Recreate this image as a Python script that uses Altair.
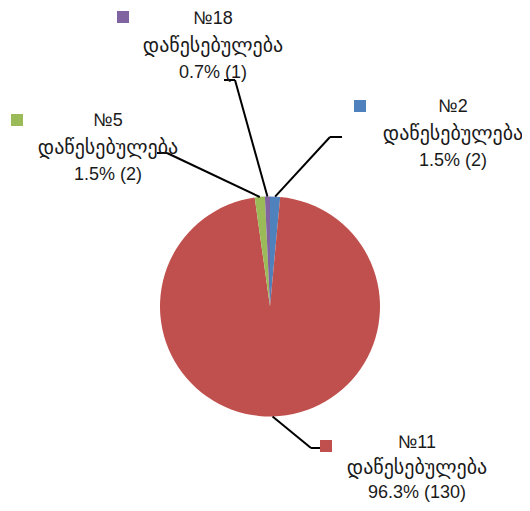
import altair as alt
import pandas as pd
import math

# ---- data ----
categories = ["№2", "№11", "№5", "№18"]
counts = [2, 130, 2, 1]
colors = ["#4F81BD", "#C0504D", "#9BBB59", "#8064A2"]
word = "დაწესებულება"

total = sum(counts)
pct_labels = [f"{c / total * 100:.1f}% ({c})" for c in counts]

# ---- layout (page pixel coordinates) ----
CX, CY, R = 270, 306.5, 110
label_centers = [(453, 107), (417, 443), (108, 121), (213, 19)]
line_h = [27, 25, 27, 27]
key_pos = [(360, 106), (326, 446), (17, 120), (123, 17)]
elbows = [(330, 137), (311, 448), (167, 153), (235, 80)]
ends = [(342, 137), (320, 448), (157, 153), (224, 80)]
FONT = "Liberation Sans, DejaVu Sans"
SIZES = [18, 20, 18]

pie_df = pd.DataFrame({"cat": categories, "count": counts, "idx": range(len(categories))})

# leader lines from slice midpoints
seg_rows = []
cum = 0
for i, c in enumerate(counts):
    mid = (cum + c / 2) / total * 2 * math.pi
    cum += c
    px = CX + R * math.sin(mid)
    py = CY - R * math.cos(mid)
    ex, ey = elbows[i]
    tx, ty = ends[i]
    seg_rows.append({"x": px, "y": py, "x2": ex, "y2": ey})
    seg_rows.append({"x": ex, "y": ey, "x2": tx, "y2": ty})
seg_df = pd.DataFrame(seg_rows)

text_rows = []
key_rows = []
for i, cat in enumerate(categories):
    lx, ly = label_centers[i]
    for j, t in enumerate([cat, word, pct_labels[i]]):
        text_rows.append({"x": lx, "y": ly + j * line_h[i], "t": t, "s": SIZES[j]})
    kx, ky = key_pos[i]
    key_rows.append({"x": kx, "y": ky, "cat": cat})
text_df = pd.DataFrame(text_rows)
key_df = pd.DataFrame(key_rows)

W, H = 514, 495
xs = alt.Scale(domain=[8, 8 + W], range=[0, W])
ys = alt.Scale(domain=[8, 8 + H], range=[0, H])
cscale = alt.Scale(domain=categories, range=colors)

arc = alt.Chart(pie_df).mark_arc(outerRadius=R).encode(
    theta=alt.Theta("count:Q", stack=True),
    order=alt.Order("idx:Q"),
    color=alt.Color("cat:N", scale=cscale, legend=None),
    x=alt.value(CX - 8),
    y=alt.value(CY - 8),
)

lines = alt.Chart(seg_df).mark_rule(color="black", strokeWidth=2).encode(
    x=alt.X("x:Q", scale=xs, axis=None),
    y=alt.Y("y:Q", scale=ys, axis=None),
    x2="x2:Q",
    y2="y2:Q",
)

texts = alt.Chart(text_df).mark_text(
    font=FONT, align="center", baseline="middle", color="#1a1a1a"
).encode(
    x=alt.X("x:Q", scale=xs, axis=None),
    y=alt.Y("y:Q", scale=ys, axis=None),
    text="t:N",
    size=alt.Size("s:Q", scale=None, legend=None),
)

keys = alt.Chart(key_df).mark_square(size=144, opacity=1).encode(
    x=alt.X("x:Q", scale=xs, axis=None),
    y=alt.Y("y:Q", scale=ys, axis=None),
    color=alt.Color("cat:N", scale=cscale, legend=None),
)

chart = alt.layer(arc, lines, texts, keys).properties(
    width=W, height=H, padding=0,
    autosize=alt.AutoSizeParams(type="fit", contains="padding"),
).configure_view(stroke=None)

chart.save("out.html", embed_options={"renderer": "svg", "actions": False})
